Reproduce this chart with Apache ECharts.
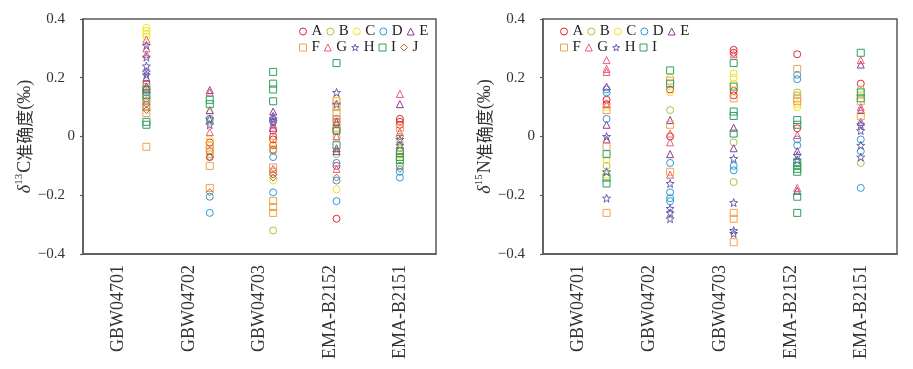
<!DOCTYPE html>
<html>
<head>
<meta charset="utf-8">
<script src="https://cdn.jsdelivr.net/npm/echarts@6/dist/echarts.min.js"></script>
<style>
html,body{margin:0;padding:0;background:#fff;}
#chart{width:913px;height:369px;}
</style>
</head>
<body>
<div id="chart"></div>
<script>
// ---------- data ----------
const categories = ['GBW04701', 'GBW04702', 'GBW04703', 'EMA-B2152', 'EMA-B2151'];
const yTicks = [-0.4, -0.2, 0, 0.2, 0.4];
const labsC = ['A', 'B', 'C', 'D', 'E', 'F', 'G', 'H', 'I', 'J'];
const labsN = ['A', 'B', 'C', 'D', 'E', 'F', 'G', 'H', 'I'];

// δ13C accuracy, per lab: [GBW04701, GBW04702, GBW04703, EMA-B2152, EMA-B2151]
const c13_A = [[0.18, 0.16, 0.15, 0.12], [-0.02, -0.05, -0.07], [0.02, 0.0, -0.01, -0.03, -0.045], [0.05, 0.02, -0.10, -0.28], [0.06, 0.05, 0.04]];
const c13_B = [[0.17, 0.13], [0.05, -0.06], [-0.05, -0.32], [0.0, -0.06], [-0.04, -0.06]];
const c13_C = [[0.37, 0.36, 0.35, 0.34], [0.08, -0.01], [-0.15, -0.02], [0.13, -0.18, -0.05], [-0.02, -0.09]];
const c13_D = [[0.13, 0.10], [0.06, -0.205, -0.26], [-0.07, -0.19, 0.05], [-0.09, -0.15, -0.22, 0.06], [-0.10, -0.12, -0.14]];
const c13_E = [[0.20, 0.17], [0.158, 0.09], [0.085, 0.07, 0.03], [0.05, -0.04, -0.05], [0.11]];
const c13_F = [[0.12, 0.10, 0.08, -0.035], [-0.03, -0.045, -0.10, -0.175], [-0.105, -0.12, -0.22, -0.24, -0.26], [0.12, 0.10, 0.08, 0.06, 0.03], [0.03, -0.06]];
const c13_G = [[0.33, 0.30, 0.28], [0.015, 0.15], [-0.11, 0.04], [-0.11, 0.0], [0.145, 0.015]];
const c13_H = [[0.31, 0.27, 0.24, 0.22, 0.21], [0.06, 0.04], [0.06, 0.05], [0.15, 0.11], [-0.01, -0.03]];
const c13_I = [[0.16, 0.14, 0.05, 0.04], [0.125, 0.11], [0.22, 0.18, 0.16, 0.12], [0.25, 0.02, -0.03], [-0.05, -0.07, -0.08]];
const c13_J = [[0.11, 0.09], [-0.07, -0.19], [-0.13, -0.14], [-0.14, 0.04], [0.0, -0.11]];

// δ15N accuracy, per lab
const n15_A = [[0.125, 0.11], [0.16, 0.0], [0.295, 0.285, 0.155, 0.14], [0.28, 0.028], [0.18]];
const n15_B = [[-0.10], [0.09], [-0.02, -0.155], [0.15, 0.14], [0.16, -0.09]];
const n15_C = [[0.10, -0.08, -0.13], [0.20, 0.15], [0.215, 0.20, 0.18], [0.11, 0.10], [0.14]];
const n15_D = [[0.16, 0.15, 0.06], [-0.09, -0.19, -0.21, -0.22], [-0.10, -0.115], [0.21, 0.195, -0.01, -0.03], [-0.01, -0.05, -0.175]];
const n15_E = [[0.17, 0.04, -0.01], [0.056, -0.06], [0.03, -0.04], [-0.05, -0.185], [0.245, 0.09, 0.05]];
const n15_F = [[0.09, -0.035, -0.26], [0.19, 0.04, -0.12], [0.13, -0.26, -0.28, -0.36], [0.23, 0.13, 0.12], [0.12, 0.07]];
const n15_G = [[0.26, 0.23, 0.22, 0.11], [0.01, -0.02, -0.13], [0.28], [0.005, -0.175], [0.26, 0.10]];
const n15_H = [[0.0, -0.12, -0.21], [-0.16, -0.245, -0.26, -0.28], [-0.075, -0.225, -0.32, -0.33], [-0.065, -0.08], [0.04, 0.02, -0.03, -0.07]];
const n15_I = [[-0.06, -0.16, -0.14], [0.225, 0.18], [0.25, 0.17, 0.085, 0.07, 0.01], [0.056, 0.04, -0.09, -0.10, -0.11, -0.12, -0.205, -0.26], [0.285, 0.15, 0.13]];

const c13Data = [c13_A, c13_B, c13_C, c13_D, c13_E, c13_F, c13_G, c13_H, c13_I, c13_J];
const n15Data = [n15_A, n15_B, n15_C, n15_D, n15_E, n15_F, n15_G, n15_H, n15_I];

// ---------- styles ----------
const STAR = 'path://M0,-10L2.35,-3.24L9.51,-3.09L3.8,1.24L5.88,8.09L0,4L-5.88,8.09L-3.8,1.24L-9.51,-3.09L-2.35,-3.24Z';
const labStyle = {
  A: { color: '#e3262e', symbol: 'circle' },
  B: { color: '#a9c43c', symbol: 'circle' },
  C: { color: '#f5e11c', symbol: 'circle' },
  D: { color: '#2c9bd7', symbol: 'circle' },
  E: { color: '#8e3b97', symbol: 'triangle' },
  F: { color: '#f0a34b', symbol: 'rect' },
  G: { color: '#ee5b78', symbol: 'triangle' },
  H: { color: '#6a5da9', symbol: STAR },
  I: { color: '#2f9e5f', symbol: 'rect' },
  J: { color: '#a6693d', symbol: 'diamond' }
};
const SERIF = '"Liberation Serif","Times New Roman","DejaVu Serif",serif';
const AXIS_COLOR = '#5a5a5a';

function makeSeries(labs, data, xIdx, yIdx) {
  return labs.map((lab, k) => ({
    name: lab,
    type: 'scatter',
    xAxisIndex: xIdx,
    yAxisIndex: yIdx,
    symbol: labStyle[lab].symbol,
    symbolSize: lab === 'H' ? 8 : 7,
    itemStyle: { color: 'rgba(255,255,255,0)', borderColor: labStyle[lab].color, borderWidth: 1, opacity: 1 },
    emphasis: { disabled: true },
    data: data[k].flatMap((vals, i) => vals.map(v => [i + 1, v]))
  }));
}

function catAxis(grid) {
  return {
    gridIndex: grid, type: 'category', data: categories, boundaryGap: true,
    axisLine: { onZero: false, lineStyle: { color: AXIS_COLOR, width: 1.5 } },
    axisTick: { inside: true, length: 4, lineStyle: { color: AXIS_COLOR, width: 1.2 } },
    axisLabel: { rotate: 90, margin: 11, color: '#333', fontFamily: SERIF, fontSize: 18 },
    splitLine: { show: false }
  };
}
function valXAxis(grid) {
  return { gridIndex: grid, type: 'value', min: 0, max: 5.57, show: false, axisLine: { onZero: false } };
}
function yAxis(grid, nameRich) {
  return {
    gridIndex: grid, type: 'value', min: -0.4, max: 0.4, interval: 0.2,
    axisLine: { show: true, onZero: false, lineStyle: { color: AXIS_COLOR, width: 1.5 } },
    axisTick: { show: true, inside: false, length: 3, lineStyle: { color: AXIS_COLOR, width: 1.2 } },
    splitLine: { show: false },
    axisLabel: {
      margin: 8,
      formatter: v => {
        const t = yTicks.find(x => Math.abs(x - v) < 1e-9);
        const val = t === undefined ? v : t;
        if (Math.abs(val) < 1e-9) return '{z|0}';
        return '{n|' + (val < 0 ? '\u2212' : '') + Math.abs(val).toFixed(1) + '}';
      },
      rich: {
        z: { fontFamily: SERIF, fontSize: 15, color: '#333' },
        n: { fontFamily: SERIF, fontSize: 15, color: '#333', padding: [0, 10, 0, 0] }
      }
    },
    name: nameRich,
    nameLocation: 'middle',
    nameGap: 47,
    nameTextStyle: {
      color: '#333',
      rich: {
        d: { fontFamily: SERIF, fontStyle: 'italic', fontSize: 18, color: '#333', lineHeight: 22 },
        s: { fontFamily: SERIF, fontSize: 11, color: '#333', verticalAlign: 'top', lineHeight: 22, padding: [0, 1, 0, 0] },
        t: { fontFamily: SERIF + ',"Noto Sans CJK SC"', fontSize: 18, color: '#333', lineHeight: 22 },
        c: { fontFamily: '"Noto Sans CJK SC"', fontSize: 17, color: '#333', lineHeight: 22 }
      }
    }
  };
}

function legendRow(items, left, top) {
  return {
    data: items, left: left, top: top, orient: 'horizontal',
    itemWidth: 7, itemHeight: 7, itemGap: 4, selectedMode: false,
    padding: 0,
    itemStyle: { borderWidth: 1 },
    textStyle: { fontFamily: SERIF, fontSize: 15, color: '#222', width: 10 }
  };
}

const option = {
  animation: false,
  backgroundColor: '#fff',
  grid: [
    { left: 83, top: 19, width: 353, height: 235, show: true, borderColor: AXIS_COLOR, borderWidth: 1.5, backgroundColor: 'transparent' },
    { left: 543, top: 19, width: 354, height: 235, show: true, borderColor: AXIS_COLOR, borderWidth: 1.5, backgroundColor: 'transparent' }
  ],
  legend: [
    legendRow(labsC.slice(0, 5), 299, 24),
    legendRow(labsC.slice(5), 299, 40),
    legendRow(labsN.slice(0, 5), 560, 24),
    legendRow(labsN.slice(5), 560, 40)
  ],
  xAxis: [catAxis(0), valXAxis(0), catAxis(1), valXAxis(1)],
  yAxis: [
    yAxis(0, '{d|δ}{s|13}{t|C}{c|准确度}{t|(‰)}'),
    yAxis(1, '{d|δ}{s|15}{t|N}{c|准确度}{t|(‰)}')
  ],
  series: [
    ...makeSeries(labsC, c13Data, 1, 0),
    ...makeSeries(labsN, n15Data, 3, 1)
  ]
};

const chart = echarts.init(document.getElementById('chart'), null, { renderer: 'canvas' });
chart.setOption(option);
</script>
</body>
</html>
